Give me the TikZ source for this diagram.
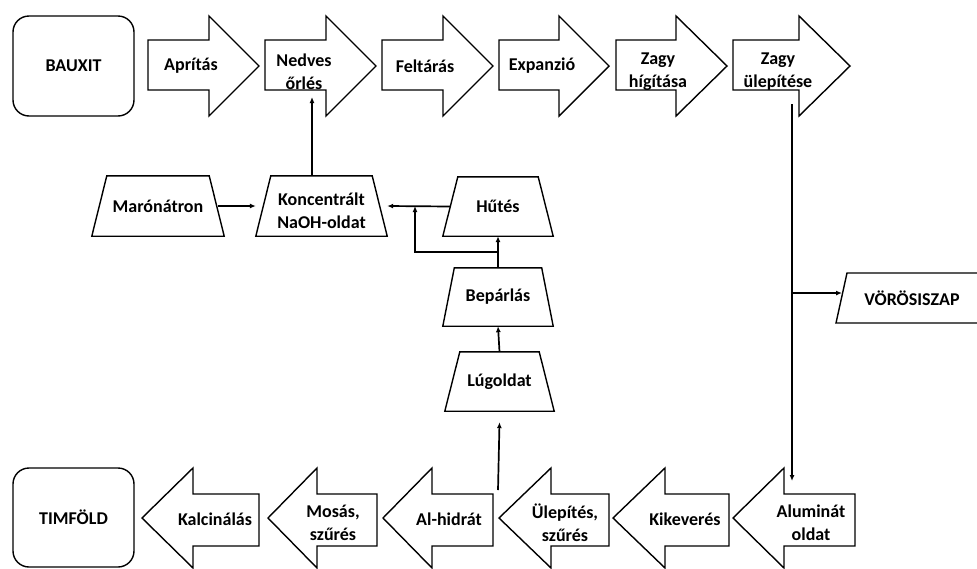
\documentclass[tikz,border=0pt]{standalone}
\usepackage{fontspec}
\setmainfont{Carlito}
\usetikzlibrary{arrows.meta}
\newcommand\rarr[7]{% name, L, H, T, text x, text y, text
  \draw[line] (#2,40) -- (#3,40) -- (#3,16) -- (#4,66) -- (#3,116) -- (#3,90) -- (#2,90) -- cycle;
  \node[lbl] (#1) at (#5,#6) {#7};}
\newcommand\larr[6]{% name, T, H, R, text y, text
  \draw[line] (#2,518) -- (#3,468) -- (#3,494) -- (#4,494) -- (#4,546) -- (#3,546) -- (#3,568) -- cycle;
  \node[lbl] (#1) at ({#4-44},#5) {#6};}
\newcommand\mytrap[2]{%
  \draw[line] ([xshift=#2]#1.north west) -- ([xshift=-#2]#1.north east) -- (#1.south east) -- (#1.south west) -- cycle;}
\begin{document}
\begin{tikzpicture}[x=1pt,y=-1pt,
  line/.style={line width=1.4pt, line join=miter},
  conn/.style={line width=1.7pt, -{Latex[length=6pt,width=5pt]}},
  lbl/.style={font=\bfseries\fontsize{18}{23}\selectfont, align=center, inner sep=0pt},
  tbox/.style={lbl, minimum height=60pt},
  endbox/.style={lbl, draw, line width=1.4pt, rounded corners=16pt, minimum width=121pt, minimum height=100pt},
]
\useasboundingbox (0,0) rectangle (977,568);

% start and end
\node[endbox] (bauxit) at (73.5,66) {BAUXIT};
\node[endbox, minimum height=99pt] (timfold) at (73.5,517.5) {TIMFÖLD};

% top row
\rarr{apr}{148}{209}{259}{191}{66}{Aprítás}
\rarr{ned}{265}{326}{376}{304}{72}{Nedves\\őrlés}
\rarr{felt}{382}{443}{493}{425}{66}{Feltárás}
\rarr{exp}{499}{559}{609}{542}{66}{Expanzió}
\rarr{hig}{616}{676}{727}{658}{72}{Zagy\\hígítása}
\rarr{ule}{733}{799}{850}{778}{72}{Zagy\\ülepítése}

% bottom row
\larr{kalc}{142}{193}{259}{519}{Kalcinálás}
\larr{mos}{268}{317}{377}{523}{Mosás,\\szűrés}
\larr{alh}{383}{432}{493}{519}{Al-hidrát}
\larr{ulsz}{499}{551}{609}{523}{Ülepítés,\\szűrés}
\larr{kik}{613}{665}{729}{519}{Kikeverés}
\larr{alum}{733}{784}{855}{523}{Aluminát\\oldat}

% trapezoids
\node[tbox, minimum width=132pt] (maro) at (158,206) {Marónátron};
\mytrap{maro}{15pt}
\node[tbox, minimum width=131pt] (konc) at (321.5,206) {};
\mytrap{konc}{15pt}
\node[lbl] (konctext) at (321.5,211) {Koncentrált\\NaOH-oldat};
\node[tbox, minimum width=110pt, minimum height=59pt] (hutes) at (498,206.5) {Hűtés};
\mytrap{hutes}{15pt}
\node[tbox, minimum width=110pt, minimum height=58pt] (bep) at (498,297) {Bepárlás};
\mytrap{bep}{11.5pt}
\node[tbox, minimum width=109pt, minimum height=59pt] (lug) at (499.5,381.5) {Lúgoldat};
\mytrap{lug}{15pt}

% red mud
\draw[line] (847,273) -- (992,273) -- (1003,323) -- (836,323) -- cycle;
\node[lbl] (voros) at (912,298) {VÖRÖSISZAP};

% connectors
\coordinate (nedin) at (312,97);
\draw[conn] ([xshift=-9.5pt]konc.north) -- (nedin);

\coordinate (zagyout) at (792,104);
\coordinate (alumin) at (792,481);
\draw[conn] (zagyout) -- (alumin);
\coordinate (vorbranch) at (792,293);
\coordinate (vorin) at (842,293);
\draw[conn] (vorbranch) -- (vorin);

\draw[conn] ([xshift=-6pt]maro.east) -- (konc.west);
\draw[conn] ([xshift=7.5pt]hutes.west) -- (konc.east);
\draw[conn] (bep.north) -- (hutes.south);
\coordinate (split) at (498,252);
\coordinate (join) at (415,206);
\draw[conn] (split) -| (join);
\draw[conn] (lug.north) -- (bep.south);
\coordinate (alhout) at (498,490);
\draw[conn] (alhout) -- ([yshift=-11pt]lug.south);
\end{tikzpicture}
\end{document}
